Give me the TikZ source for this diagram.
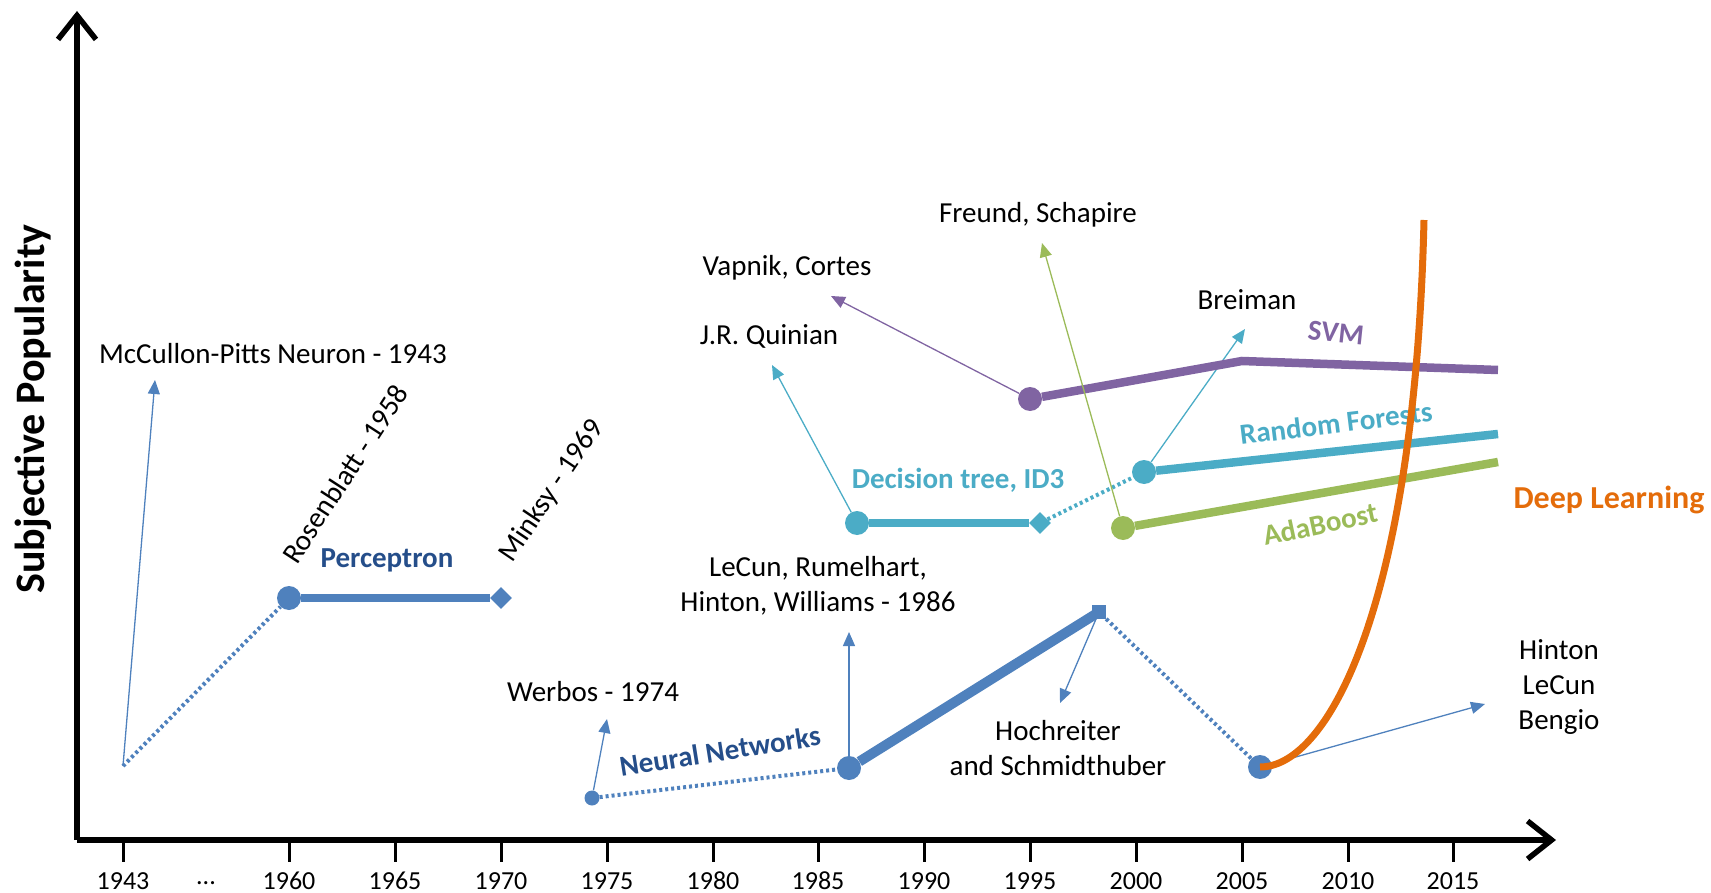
\documentclass[tikz,border=0pt]{standalone}
\usepackage{fontspec}
\setmainfont{Carlito}
\usetikzlibrary{shapes.geometric,arrows.meta,positioning}

\definecolor{nnblue}{HTML}{4F81BD}
\definecolor{nndark}{HTML}{254E8A}
\definecolor{dtcyan}{HTML}{4BACC6}
\definecolor{svmpurple}{HTML}{8064A2}
\definecolor{adagreen}{HTML}{9BBB59}
\definecolor{dlorange}{HTML}{E46C0A}

\tikzset{
  every node/.style={font=\fontsize{29}{35}\selectfont},
  bigdot/.style={circle,fill,inner sep=0pt,minimum size=24pt},
  smalldot/.style={circle,fill,inner sep=0pt,minimum size=15pt},
  diam/.style={diamond,fill,inner sep=0pt,minimum size=22pt},
  sq/.style={rectangle,fill,inner sep=0pt,minimum size=14pt},
  era/.style={line width=8.5pt},
  gap/.style={line width=4pt,dash pattern=on 3pt off 3pt},
  note/.style={line width=1.3pt,-{Triangle[length=14pt,width=12pt]}},
  cat/.style={font=\fontsize{29}{35}\selectfont\bfseries},
  year/.style={font=\fontsize{26}{30}\selectfont},
}

\begin{document}
\begin{tikzpicture}[x=1pt,y=-1pt]
\useasboundingbox (0,0) rectangle (1711,893);
% axes
\draw[line width=5.5pt,-{Straight Barb[length=24pt,width=38pt,line width=5.5pt]}] (77,840) -- (77,11);
\draw[line width=5.5pt,-{Straight Barb[length=24pt,width=38pt,line width=5.5pt]}] (77,840) -- (1556,840);
\node[rotate=90,font=\fontsize{42}{48}\selectfont\bfseries] (ylab) at (33,409) {Subjective Popularity};
%
\draw[line width=3pt] (123,840) -- (123,862);
\draw[line width=3pt] (289,840) -- (289,862);
\draw[line width=3pt] (395,840) -- (395,862);
\draw[line width=3pt] (501,840) -- (501,862);
\draw[line width=3pt] (607,840) -- (607,862);
\draw[line width=3pt] (713,840) -- (713,862);
\draw[line width=3pt] (818,840) -- (818,862);
\draw[line width=3pt] (924,840) -- (924,862);
\draw[line width=3pt] (1030,840) -- (1030,862);
\draw[line width=3pt] (1136,840) -- (1136,862);
\draw[line width=3pt] (1242,840) -- (1242,862);
\draw[line width=3pt] (1348,840) -- (1348,862);
\draw[line width=3pt] (1453,840) -- (1453,862);
\node[year] (y1943) at (123,881) {1943};
\node[year] (ydots) at (206,883) {...};
\node[year] (y1960) at (289,881) {1960};
\node[year] (y1965) at (395,881) {1965};
\node[year] (y1970) at (501,881) {1970};
\node[year] (y1975) at (607,881) {1975};
\node[year] (y1980) at (713,881) {1980};
\node[year] (y1985) at (818,881) {1985};
\node[year] (y1990) at (924,881) {1990};
\node[year] (y1995) at (1030,881) {1995};
\node[year] (y2000) at (1136,881) {2000};
\node[year] (y2005) at (1242,881) {2005};
\node[year] (y2010) at (1348,881) {2010};
\node[year] (y2015) at (1453,881) {2015};
%
% perceptron
\coordinate (mp) at (123,766);
\coordinate (mptip) at (155,380);
\node[bigdot,nnblue] (rb) at (289,598) {};
\node[diam,nnblue] (mk) at (501,598) {};
\draw[gap,nnblue] (mp) -- (rb);
\draw[era,nnblue] (rb) -- (mk);
\draw[note,nnblue] (mp) -- (mptip);
\node (mptext) at (273,354) {McCullon-Pitts Neuron - 1943};
\node[rotate=57] (rbtext) at (345,474) {Rosenblatt - 1958};
\node[rotate=56] (mktext) at (552,491) {Minksy - 1969};
\node[cat,nndark] (perc) at (387,560) {Perceptron};
%
% neural networks
\node[smalldot,nnblue] (wb) at (592,798) {};
\node[bigdot,nnblue] (bp) at (849,768) {};
\node[sq,nnblue] (lstm) at (1099,612) {};
\node[bigdot,nnblue] (dbn) at (1260,767) {};
\coordinate (wbtip) at (607,719);
\coordinate (bptip) at (849,632);
\coordinate (lstmtip) at (1060,703);
\coordinate (dbntip) at (1485,704);
\draw[gap,nnblue] (wb) -- (bp);
\draw[line width=10pt,nnblue] (bp) -- (lstm.center);
\draw[gap,nnblue] (lstm) -- (dbn);
\draw[note,nnblue] (wb) -- (wbtip);
\draw[note,nnblue] (bp) -- (bptip);
\draw[note,nnblue] (lstm) -- (lstmtip);
\draw[note,nnblue] (dbn) -- (dbntip);
\node (wbtext) at (593,692) {Werbos - 1974};
\node[align=center] (bptext) at (818,586) {LeCun, Rumelhart,\\Hinton, Williams - 1986};
\node[align=center] (lstmtext) at (1058,748) {Hochreiter\\and Schmidthuber};
\node[align=center] (dbntext) at (1559,687) {Hinton\\LeCun\\Bengio};
\node[cat,nndark,rotate=9] (nn) at (720,751) {Neural Networks};
%
% decision trees
\node[bigdot,dtcyan] (id3) at (857,523) {};
\node[diam,dtcyan] (id3end) at (1040,523) {};
\node[bigdot,dtcyan] (rf) at (1144,472) {};
\coordinate (rfend) at (1498,434);
\coordinate (id3tip) at (772,365);
\coordinate (rftip) at (1245,329);
\draw[era,dtcyan] (id3) -- (id3end);
\draw[gap,dtcyan] (id3end) -- (rf);
\draw[era,dtcyan] (rf) -- (rfend);
\draw[note,dtcyan] (id3) -- (id3tip);
\draw[note,dtcyan] (rf) -- (rftip);
\node (id3text) at (769,336) {J.R. Quinian};
\node (rftext) at (1247,300) {Breiman};
\node[cat,dtcyan] (dt) at (958,480) {Decision tree, ID3};
\node[cat,dtcyan,rotate=7] (rfl) at (1336,423) {Random Forests};
%
% svm
\node[bigdot,svmpurple] (svm0) at (1030,399) {};
\coordinate (svm1) at (1242,361);
\coordinate (svm2) at (1498,370);
\coordinate (svmtip) at (831,296);
\draw[era,svmpurple,line join=miter] (svm0) -- (svm1) -- (svm2);
\draw[note,svmpurple] (svm0) -- (svmtip);
\node (svmtext) at (787,268) {Vapnik, Cortes};
\node[cat,svmpurple,rotate=-6] (svml) at (1336,333) {SVM};
%
% adaboost
\node[bigdot,adagreen] (ada) at (1123,528) {};
\coordinate (adaend) at (1498,462);
\coordinate (adatip) at (1042,243);
\draw[era,adagreen] (ada) -- (adaend);
\draw[note,adagreen] (ada) -- (adatip);
\node (adatext) at (1038,215) {Freund, Schapire};
\node[cat,adagreen,rotate=12] (adal) at (1320,524) {AdaBoost};
%
% deep learning
\coordinate (dltop) at (1424,220);
\draw[line width=7pt,dlorange] (dbn.center) .. controls (1330,767) and (1415,600) .. (dltop);
\node[cat,dlorange,font=\fontsize{32}{38}\selectfont\bfseries] (dl) at (1609,500) {Deep Learning};
\end{tikzpicture}
\end{document}
